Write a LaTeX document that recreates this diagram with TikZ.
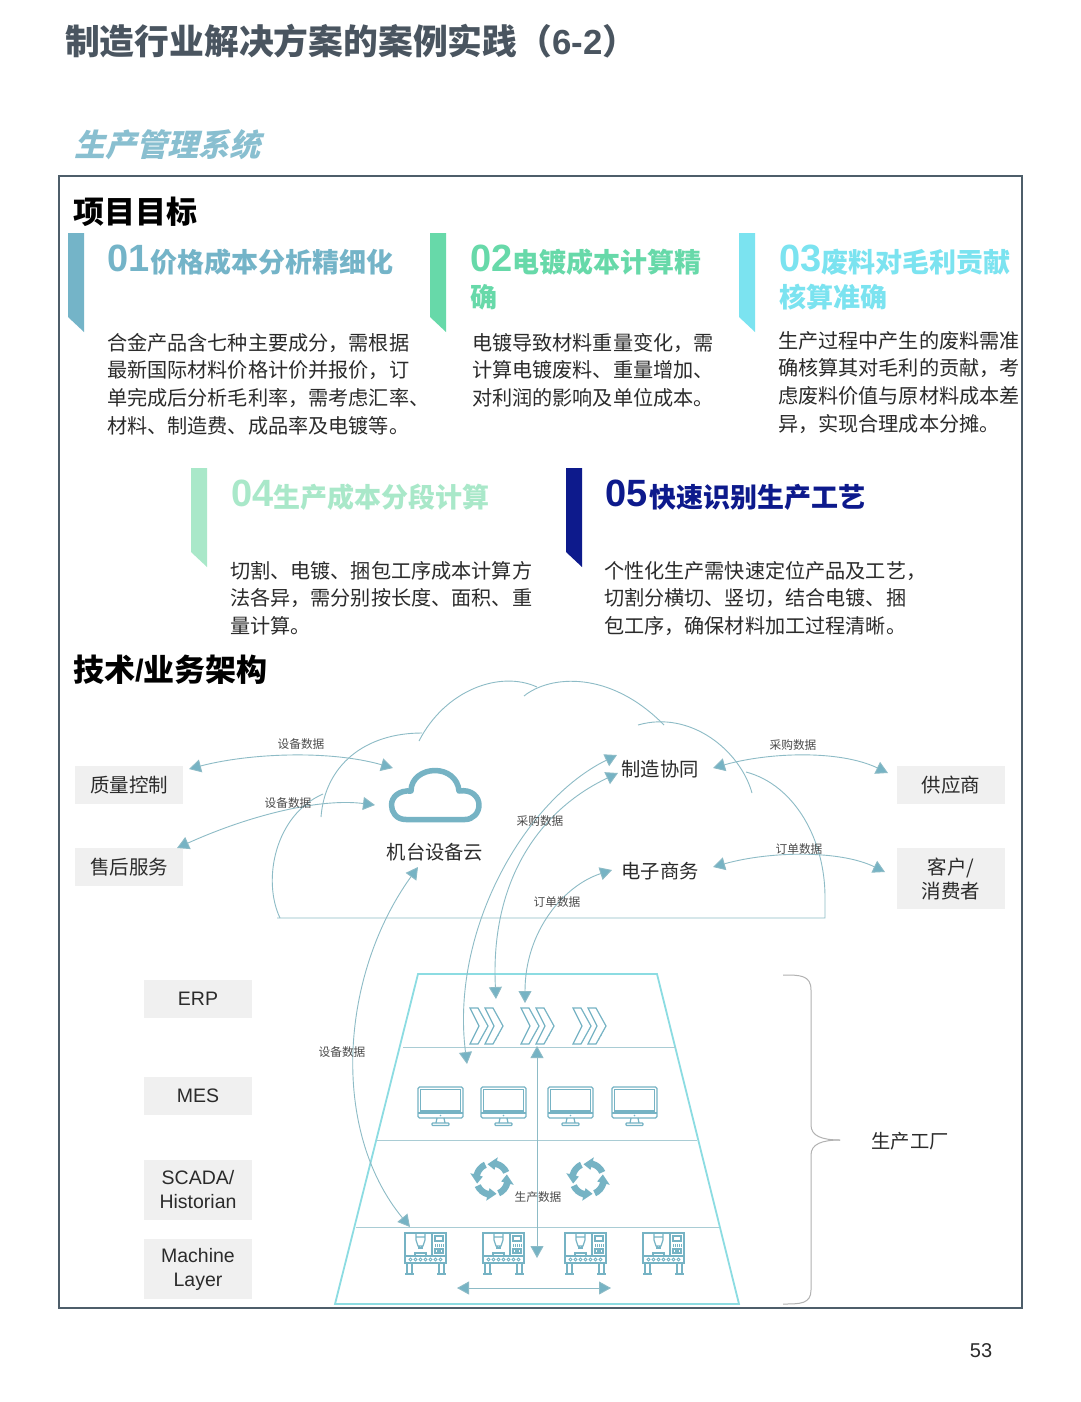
\documentclass[tikz,border=0pt]{standalone}
\usepackage{fontspec}
\setmainfont{Noto Sans CJK SC}
\newfontfamily\slantcjk[FakeSlant=0.25]{Noto Sans CJK SC}
\newfontfamily\latinf{Liberation Sans}
\usetikzlibrary{arrows.meta}
\definecolor{teal}{HTML}{76B3C4}
\definecolor{tealline}{HTML}{8DBBC6}
\definecolor{pyr}{HTML}{8CDCE2}
\definecolor{cA}{HTML}{74B4C8}
\definecolor{cB}{HTML}{67D9A9}
\definecolor{cC}{HTML}{7BE3F0}
\definecolor{cD}{HTML}{A9E8C9}
\definecolor{cE}{HTML}{0D1A8C}
\definecolor{boxg}{HTML}{F0F0F0}
\definecolor{titleg}{HTML}{4A5560}
\definecolor{txt}{HTML}{2B2B2B}
\tikzset{
  tnode/.style={inner sep=0pt,outer sep=0pt,text=txt},
  body/.style={tnode,anchor=north west,align=left,font=\fontsize{20.15}{27.8}\selectfont,text=txt},
  sect/.style={tnode,anchor=west,text=black,font=\fontsize{31}{31}\selectfont\bfseries},
  num/.style={tnode,anchor=west,font=\fontsize{38}{38}\selectfont\latinf\bfseries},
  head/.style={tnode,anchor=west,font=\fontsize{27}{27}\selectfont\bfseries},
  small/.style={tnode,font=\fontsize{11.7}{12}\selectfont,text=txt!85},
  captn/.style={tnode,font=\fontsize{19.3}{20}\selectfont},
  grey/.style={fill=boxg,inner sep=0pt,outer sep=0pt,minimum width=108pt,align=center,font=\fontsize{19.5}{24}\selectfont,text=txt},
  latin/.style={font=\fontsize{19.5}{24}\selectfont\latinf},
  dlink/.style={draw=tealline,line width=.9pt,{Triangle[length=12pt,width=13pt,fill=teal]}-{Triangle[length=12pt,width=13pt,fill=teal]}},
  cloudl/.style={draw=tealline,line width=.9pt},
  ico/.style={draw=teal,line width=1.2pt},
  pyra/.style={draw=pyr,line width=1.8pt},
  pyrl/.style={draw=tealline!75,line width=1pt},
  pics/monitor/.style={code={
    \draw[ico,rounded corners=1.5pt] (0,0) rectangle (45,31);
    \draw[ico] (2.5,2.5) rectangle (42.5,24);
    \draw[ico] (0,26) -- (45,26);
    \fill[teal] (22.5,28.5) circle (.9);
    \draw[ico] (19,31) -- (18,36) (26,31) -- (27,36);
    \draw[ico,rounded corners=.8pt] (14,36) rectangle (31,38.5);
  }},
  pics/chev/.style={code={
    \draw[ico] (0,0) -- (8,0) -- (18,18) -- (8,36) -- (0,36) -- (9,18) -- cycle;
    \draw[ico] (15,0) -- (23,0) -- (33,18) -- (23,36) -- (15,36) -- (24,18) -- cycle;
    \fill[teal] (26,31) circle (.6) (28,27.5) circle (.6);
  }},
  pics/machine/.style={code={
    \draw[ico] (0,0) rectangle (41,23);
    \draw[ico] (0,23) rectangle (41,30);
    \draw[ico] (27,0) -- (27,23);
    \draw[ico] (11,0) -- (11,7) -- (13,13) -- (18,13) -- (20,7) -- (20,0) (11,4) -- (20,4);
    \draw[ico] (14,13) -- (14,15) -- (17,15) -- (17,13);
    \draw[ico] (10,23) -- (10,20) -- (21,20) -- (21,23);
    \draw[ico] (30,3) rectangle (38,8);
    \draw[ico] (30,16) rectangle (33,20) (35,16) rectangle (38,20);
    \foreach \u in {30,32,...,38}{\draw[teal,line width=.9pt] (\u,11) -- (\u,14);}
    \foreach \u in {5,10,...,35}{\draw[teal,line width=.8pt] (\u+.5,26.5) circle (1.5);}
    \draw[ico] (2,30) -- (2,41) (7,30) -- (7,41) (34,30) -- (34,41) (39,30) -- (39,41);
    \draw[ico] (0,41) -- (9,41) (32,41) -- (41,41);
  }},
  pics/recyc/.style={code={
    \foreach \a in {25,115,205,295}{
      \fill[teal] (\a:19pt) arc[start angle=\a,end angle=\a+50,radius=19pt]
        -- (\a+50:22.5pt) -- (\a+82:15.5pt) -- (\a+50:9.5pt) -- (\a+50:12.5pt)
        arc[start angle=\a+50,end angle=\a,radius=12.5pt] -- cycle;
    }
  }}
}
\begin{document}
\begin{tikzpicture}[x=1pt,y=-1pt]
\useasboundingbox (0,0) rectangle (1080,1402);
\fill[white] (0,0) rectangle (1080,1402);

% title
\node[tnode,anchor=west,text=titleg,font=\fontsize{34.8}{36}\selectfont\bfseries] (title) at (65,41) {制造行业解决方案的案例实践（{\latinf\bfseries 6-2}）};
\node[tnode,anchor=west,text=cA!85,font=\fontsize{31}{31}\selectfont\slantcjk\bfseries] (sub) at (74,145) {生产管理系统};
\draw[draw=titleg!90!teal,line width=1.4pt] (59,176) rectangle (1022,1308);

% section heads
\node[sect] (s1) at (73,212) {项目目标};
\node[sect] (s2) at (73,670) {技术{\latinf\bfseries /}业务架构};

% ribbons
\fill[cA] (68,233) -- (84,233) -- (84,332) -- (68,317) -- cycle;
\fill[cB] (430,233) -- (446,233) -- (446,332) -- (430,317) -- cycle;
\fill[cC] (739,233) -- (755,233) -- (755,332) -- (739,317) -- cycle;
\fill[cD] (191,468) -- (207,468) -- (207,567) -- (191,552) -- cycle;
\fill[cE] (566,468) -- (582,468) -- (582,567) -- (566,552) -- cycle;

% goal headings
\node[num,text=cA] (n1) at (107,258) {01};
\node[head,text=cA] (h1) at (150,262) {价格成本分析精细化};
\node[num,text=cB] (n2) at (470,258) {02};
\node[head,text=cB] (h2) at (512,262) {电镀成本计算精};
\node[head,text=cB] (h2b) at (470,297) {确};
\node[num,text=cC] (n3) at (779,258) {03};
\node[head,text=cC] (h3) at (821,262) {废料对毛利贡献};
\node[head,text=cC] (h3b) at (779,297) {核算准确};
\node[num,text=cD] (n4) at (231,493) {04};
\node[head,text=cD] (h4) at (273,497) {生产成本分段计算};
\node[num,text=cE] (n5) at (605,493) {05};
\node[head,text=cE] (h5) at (649,497) {快速识别生产工艺};

% bodies
\node[body] (b1) at (107,333) {合金产品含七种主要成分，需根据\\最新国际材料价格计价并报价，订\\单完成后分析毛利率，需考虑汇率、\\材料、制造费、成品率及电镀等。};
\node[body] (b2) at (472,333) {电镀导致材料重量变化，需\\计算电镀废料、重量增加、\\对利润的影响及单位成本。};
\node[body] (b3) at (778,331) {生产过程中产生的废料需准\\确核算其对毛利的贡献，考\\虑废料价值与原材料成本差\\异，实现合理成本分摊。};
\node[body] (b4) at (230,561) {切割、电镀、捆包工序成本计算方\\法各异，需分别按长度、面积、重\\量计算。};
\node[body] (b5) at (604,561) {个性化生产需快速定位产品及工艺，\\切割分横切、竖切，结合电镀、捆\\包工序，确保材料加工过程清晰。};

% cloud outline
\draw[cloudl] (280,918) .. controls (262,880) and (275,815) .. (323,794);
\draw[cloudl] (321,817) .. controls (325,765) and (365,733) .. (422,733);
\draw[cloudl] (419,741) .. controls (445,690) and (500,670) .. (537,687);
\draw[cloudl] (524,696) .. controls (550,675) and (610,670) .. (664,725);
\draw[cloudl] (638,725) .. controls (690,710) and (740,750) .. (752,793);
\draw[cloudl] (746,772) .. controls (795,785) and (825,840) .. (825,897) -- (825,918) -- (277,918);

% cloud icon
\draw[teal,line width=5.5pt,line join=round]
  (406,819.5) .. controls (396,819.5) and (391.5,812) .. (391.5,805)
  .. controls (391.5,797) and (399,790) .. (411,791)
  .. controls (411,778) and (423,770.5) .. (435,770.5)
  .. controls (447,770.5) and (458,778) .. (459,791)
  .. controls (472,789) and (479,797) .. (479,805)
  .. controls (479,813) and (473,819.5) .. (465,819.5) -- cycle;

% grey boxes
\node[grey,minimum height=38pt] (qc) at (129,785) {质量控制};
\node[grey,minimum height=38pt] (as) at (129,867) {售后服务};
\node[grey,minimum height=38pt] (sp) at (951,785) {供应商};
\node[grey,minimum height=61pt] (cu) at (951,878.5) {客户/\\消费者};
\node[grey,latin,minimum height=38pt] (erp) at (198,999) {ERP};
\node[grey,latin,minimum height=38pt] (mes) at (198,1096) {MES};
\node[grey,latin,minimum height=60pt] (sca) at (198,1190) {SCADA/\\Historian};
\node[grey,latin,minimum height=60pt] (mac) at (198,1269) {Machine\\Layer};

% captions
\node[captn] (ccloud) at (435,852) {机台设备云};
\node[captn] (mfg) at (660,769) {制造协同};
\node[captn] (ec) at (660,871) {电子商务};
\node[captn] (fac) at (910,1141) {生产工厂};
\node[tnode,font=\fontsize{20}{20}\selectfont\latinf] (pg) at (981,1351) {53};

% pyramid
\draw[pyra] (418,974) -- (657,974) -- (739,1304) -- (335,1304) -- cycle;
\draw[pyrl] (403,1047) -- (676,1047);
\draw[pyrl] (377,1140) -- (697,1140);
\draw[pyrl] (356,1227) -- (719,1227);

% icons
\foreach \u in {470,521,573}{\pic at (\u,1008) {chev};}
\foreach \u in {418,481,548,612}{\pic at (\u,1087) {monitor};}
\foreach \u in {492,588}{\pic at (\u,1179) {recyc};}
\foreach \u in {405,483,565,643}{\pic at (\u,1233) {machine};}

% connector ends
\coordinate (qcT) at (189,769);
\coordinate (clT) at (393,768);
\coordinate (asT) at (177,848);
\coordinate (clL) at (375,805);
\coordinate (mfR) at (713,768);
\coordinate (spT) at (888,773);
\coordinate (ecR) at (713,867);
\coordinate (cuT) at (885,872);
\coordinate (clB) at (418,867);
\coordinate (l4a) at (410,1227);
\coordinate (mfA) at (617,755);
\coordinate (l2a) at (467,1064);
\coordinate (mfB) at (618,773);
\coordinate (l1a) at (496,999);
\coordinate (ecL) at (612,870);
\coordinate (l1b) at (525,1003);
\coordinate (vT) at (537,1046);
\coordinate (vB) at (537,1258);
\coordinate (hL) at (457,1288);
\coordinate (hR) at (611,1288);

% connectors
\draw[dlink] (qcT) .. controls (250,753) and (330,750) .. (clT);
\draw[dlink] (asT) .. controls (250,815) and (320,798) .. (clL);
\draw[dlink] (mfR) .. controls (770,752) and (840,750) .. (spT);
\draw[dlink] (ecR) .. controls (770,851) and (840,850) .. (cuT);
\draw[dlink] (clB) .. controls (340,975) and (330,1130) .. (l4a);
\draw[dlink] (mfA) .. controls (525,800) and (450,930) .. (l2a);
\draw[dlink] (mfB) .. controls (540,810) and (490,880) .. (l1a);
\draw[dlink] (ecL) .. controls (565,885) and (525,930) .. (l1b);
\draw[dlink] (vT) -- (vB);
\draw[dlink] (hL) -- (hR);

% brace
\coordinate (brT) at (783,975);
\coordinate (brB) at (783,1304);
\coordinate (brM) at (840,1140);
\draw[draw=black!30,line width=1pt] (brT) .. controls (800,975) and (811,975) .. (811,990) -- (811,1125) .. controls (811,1136) and (822,1140) .. (brM);
\draw[draw=black!30,line width=1pt] (brM) .. controls (822,1140) and (811,1144) .. (811,1155) -- (811,1290) .. controls (811,1304) and (800,1304) .. (brB);

% small labels
\node[small] (la) at (301,744) {设备数据};
\node[small] (lb) at (288,803) {设备数据};
\node[small] (lc) at (793,745) {采购数据};
\node[small] (ld) at (540,821) {采购数据};
\node[small] (le) at (799,849) {订单数据};
\node[small] (lf) at (557,902) {订单数据};
\node[small] (lg) at (342,1052) {设备数据};
\node[small] (lh) at (538,1197) {生产数据};
\end{tikzpicture}
\end{document}
